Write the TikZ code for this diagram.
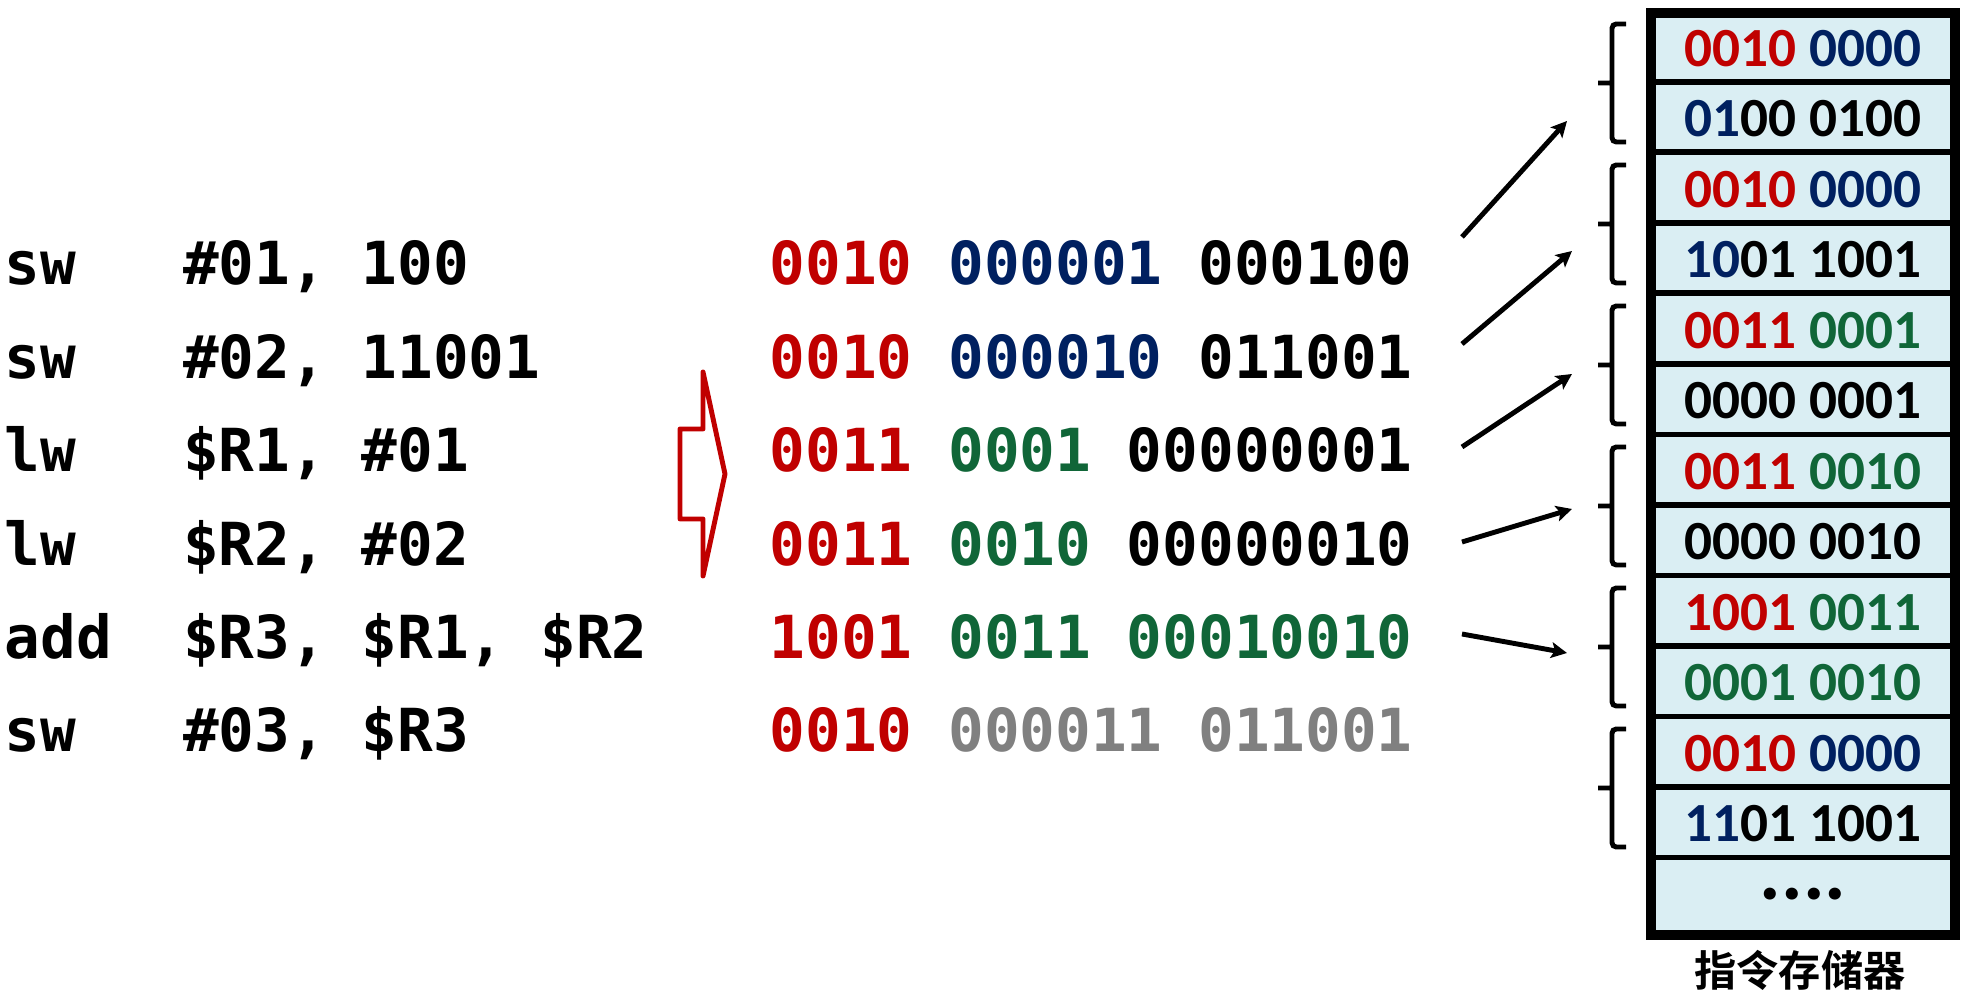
\documentclass[tikz,border=0pt]{standalone}
\usepackage{fontspec}
\usetikzlibrary{arrows.meta}
\setmainfont{Carlito}
\newfontfamily\asmfont{DejaVu Sans Mono Bold}
\newfontfamily\cjkfont{Noto Sans CJK SC Bold}
\definecolor{opred}{RGB}{192,0,0}
\definecolor{regblue}{RGB}{0,32,96}
\definecolor{datgreen}{RGB}{16,102,56}
\definecolor{datgray}{RGB}{128,128,128}
\definecolor{memfill}{RGB}{218,238,243}
\newcommand\opf[1]{\textcolor{opred}{#1}}
\newcommand\regf[1]{\textcolor{regblue}{#1}}
\newcommand\datf[1]{\textcolor{datgreen}{#1}}
\newcommand\grayf[1]{\textcolor{datgray}{#1}}

\begin{document}
\begin{tikzpicture}[x=0.01cm,y=-0.01cm,
  asm/.style={anchor=base west,inner sep=0pt,font=\asmfont\fontsize{16.87}{20}\selectfont},
  cell/.style={anchor=base,inner sep=0pt,font=\bfseries\fontsize{15.7}{19}\selectfont},
  membrace/.style={line width=1.4pt,rounded corners=1.2pt},
  link/.style={line width=1.4pt,-{Stealth[length=4.5pt,width=4.5pt,inset=1pt]}},
  convert/.style={draw=opred,line width=1.4pt,line join=round}]

  \useasboundingbox (0,0) rectangle (1966,998);

  \foreach \op/\arg [count=\i] in {sw/{\#01, 100},sw/{\#02, 11001},lw/{\$R1, \#01},
      lw/{\$R2, \#02},add/{\$R3, \$R1, \$R2},sw/{\#03, \$R3}} {
    \node[asm] (op\i) at (4,{285+93.4*(\i-1)}) {\op};
    \node[asm] (arg\i) at (182.5,{285+93.4*(\i-1)}) {\arg};
  }

  \draw[convert] (680,429) -- (703,429) -- (703,372) -- (725,474) -- (703,576)
    -- (703,519) -- (680,519) -- cycle;

  \foreach \b [count=\i] in {
      {\opf{0010} \regf{000001} 000100},
      {\opf{0010} \regf{000010} 011001},
      {\opf{0011} \datf{0001} 00000001},
      {\opf{0011} \datf{0010} 00000010},
      {\opf{1001} \datf{0011} \datf{00010010}},
      {\opf{0010} \grayf{000011} \grayf{011001}}}
    \node[asm] (bin\i) at (769,{285+93.4*(\i-1)}) {\b};

  \fill[memfill] (1651,13) rectangle (1955,935);
  \foreach \k in {1,...,12}
    \draw[line width=1.7pt] (1651,{11.5+70.5*\k}) -- (1955,{11.5+70.5*\k});
  \foreach \t [count=\i] in {
      {\opf{0010} \regf{0000}},
      {\regf{01}00 0100},
      {\opf{0010} \regf{0000}},
      {\regf{10}01 1001},
      {\opf{0011} \datf{0001}},
      {0000 0001},
      {\opf{0011} \datf{0010}},
      {0000 0010},
      {\opf{1001} \datf{0011}},
      {\datf{0001 0010}},
      {\opf{0010} \regf{0000}},
      {\regf{11}01 1001}}
    \node[cell] (mem\i) at (1803,{66.5+70.5*(\i-1)}) {\t};
  \node[cell,font=\bfseries\fontsize{23}{26}\selectfont] (memdots) at (1803,900) {....};
  \draw[line width=2.85pt] (1651,13) rectangle (1955,935);
  \node[inner sep=0pt,font=\cjkfont\fontsize{12}{14}\selectfont] (memname) at (1800,970) {指令存储器};

  \foreach \c in {83,224,365,506,647,788}
    \draw[membrace] (1626,\c-59) -- (1612,\c-59) -- (1612,\c+59) -- (1626,\c+59)
      (1612,\c) -- (1598,\c);

  \foreach \sy/\ex/\ey [count=\i] in {237/1567/121,344/1572/251,447/1572/374,
      542/1572/509,634/1567/653} {
    \coordinate (from\i) at (1462,\sy);
    \coordinate (to\i) at (\ex,\ey);
    \draw[link] (from\i) -- (to\i);
  }

\end{tikzpicture}
\end{document}
